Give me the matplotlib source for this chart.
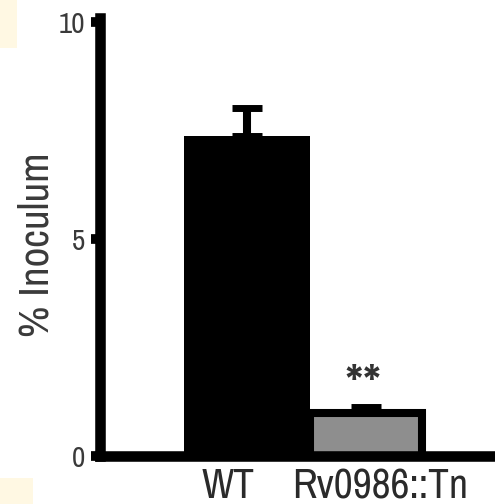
import matplotlib
matplotlib.use("Agg")
import matplotlib.pyplot as plt
from matplotlib.patches import Rectangle

FONT = "Archivo Narrow"
plt.rcParams['font.family'] = [FONT, 'Liberation Sans', 'DejaVu Sans']

categories = ["WT", "Rv0986::Tn"]
values = [7.37, 1.0]
sem = [0.66, 0.12]
significance = "**"
yticks = [0, 5, 10]

fig = plt.figure(figsize=(4.95, 5.04), dpi=100)
fig.patch.set_facecolor('white')
fig.add_artist(Rectangle((0, 1 - 48/504), 17/495, 48/504, transform=fig.transFigure,
                         facecolor='#fff8e3', edgecolor='none'))
fig.add_artist(Rectangle((0, 0), 33/495, 26/504, transform=fig.transFigure,
                         facecolor='#fff8e3', edgecolor='none'))

ax = fig.add_axes([99.5/495, 48/504, 1 - 99.5/495, 438/504])

# mutant bar (grey with black outline), drawn first
ax.bar([1], [values[1]], width=0.89, align='edge', color='#8e8e8e',
       edgecolor='black', linewidth=5.8, zorder=2)
# WT bar
ax.bar([0], [values[0]], width=1.0, align='edge', color='black',
       edgecolor='none', zorder=3)

ax.errorbar([0.5, 1.0 + 0.89/2], values, yerr=[[0, 0], sem], fmt='none',
            ecolor='black', elinewidth=5.8, capsize=10.8, capthick=5, zorder=4)

ax.text(1.0 + 0.89/2 - 0.02, 1.55, significance, ha='center', va='center',
        fontsize=42, color='#333333')

ax.set_xlim((99.5 - 184) / 126, (495 - 184) / 126)
ax.set_ylim(0, 10.1)

for s in ['top', 'right']:
    ax.spines[s].set_visible(False)
for s in ['left', 'bottom']:
    ax.spines[s].set_linewidth(7.6)
    ax.spines[s].set_capstyle('projecting')

ax.set_yticks(yticks)
ax.set_yticklabels([str(t) for t in yticks], fontsize=21, color='#3a3a3a')
ax.tick_params(axis='y', length=6.5, width=7, pad=4)

ax.set_xticks([(228 - 184) / 126, (380 - 184) / 126])
ax.set_xticklabels(categories, fontsize=30, color='#2a2a2a')
ax.tick_params(axis='x', length=0, pad=8)

ax.set_ylabel("% Inoculum", fontsize=31, color='#3a3a3a')
ax.yaxis.set_label_coords((56 - 99.5) / 395.5, (456 - 245) / 438)

fig.savefig("out.png", dpi=100)
